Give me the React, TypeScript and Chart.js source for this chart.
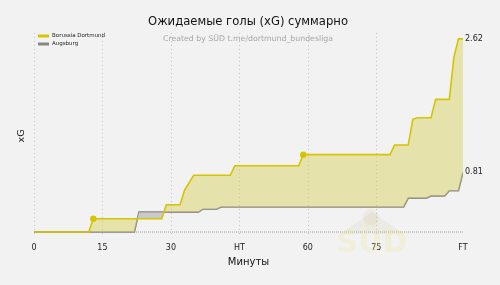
import { useEffect, useRef } from 'react';
import { Chart, registerables } from 'chart.js';
Chart.register(...registerables);

const dortmundMinutes = [0, 12, 13, 28, 29, 32, 33, 35, 43, 44, 58, 59, 78, 79, 82, 83, 84, 87, 88, 91, 92, 93, 94];
const dortmundXG = [0, 0, 0.18, 0.18, 0.37, 0.37, 0.57, 0.77, 0.77, 0.9, 0.9, 1.05, 1.05, 1.18, 1.18, 1.53, 1.55, 1.55, 1.8, 1.8, 2.37, 2.62, 2.62];
const augsburgMinutes = [0, 22, 23, 36, 37, 40, 41, 81, 82, 86, 87, 90, 91, 93, 94];
const augsburgXG = [0, 0, 0.27, 0.27, 0.31, 0.31, 0.34, 0.34, 0.46, 0.46, 0.49, 0.49, 0.56, 0.56, 0.81];
const dortmundGoalMinutes = [13, 59];
const tickMinutes = [0, 15, 30, 45, 60, 75, 94];
const tickLabels = ['0', '15', '30', 'HT', '60', '75', 'FT'];
const teamNames = ['Borussia Dortmund', 'Augsburg'];
const titleText = 'Ожидаемые голы (xG) суммарно';
const subtitleText = 'Created by SÜD t.me/dortmund_bundesliga';
const xTitle = 'Минуты';
const yTitle = 'xG';

const FONT = "'DejaVu Sans', sans-serif";
const YELLOW = '#d4c500';
const YELLOW_FILL = 'rgba(218,210,100,0.5)';
const GREY = '#858585';
const GREY_FILL = '#c9c9c9';
const BG = '#f2f2f2';

const decor = {
  id: 'decor',
  beforeDraw(chart: any) {
    const { ctx, width, height } = chart;
    ctx.save();
    ctx.fillStyle = BG;
    ctx.fillRect(0, 0, width, height);
    ctx.restore();
  },
  beforeDatasetsDraw(chart: any) {
    const { ctx } = chart;
    const xs = chart.scales.x;
    const ys = chart.scales.y;
    ctx.save();
    // vertical dotted grid
    ctx.strokeStyle = '#c4c4c4';
    ctx.lineWidth = 1;
    ctx.setLineDash([1, 3]);
    tickMinutes.slice(0, -1).forEach((m) => {
      const x = Math.round(xs.getPixelForValue(m)) + 0.5;
      ctx.beginPath();
      ctx.moveTo(x, 33);
      ctx.lineTo(x, 237);
      ctx.stroke();
    });
    // baseline
    const y0 = ys.getPixelForValue(0);
    ctx.strokeStyle = '#c8c8c8';
    ctx.lineWidth = 2;
    ctx.setLineDash([1, 1]);
    ctx.beginPath();
    ctx.moveTo(xs.getPixelForValue(0), y0);
    ctx.lineTo(xs.getPixelForValue(94), y0);
    ctx.stroke();
    ctx.setLineDash([]);
    // watermark
    ctx.fillStyle = 'rgba(200,195,150,0.16)';
    ctx.beginPath();
    ctx.moveTo(340, 234);
    ctx.lineTo(372, 212);
    ctx.lineTo(404, 234);
    ctx.closePath();
    ctx.fill();
    ctx.beginPath();
    ctx.arc(371, 217, 8, 0, Math.PI * 2);
    ctx.fill();
    ctx.fillStyle = 'rgba(240,232,160,0.3)';
    ctx.font = `bold 30px ${FONT}`;
    ctx.textAlign = 'center';
    ctx.textBaseline = 'middle';
    ctx.fillText('SÜD', 372, 244);
    ctx.restore();
  },
  afterDraw(chart: any) {
    const { ctx } = chart;
    const xs = chart.scales.x;
    const ys = chart.scales.y;
    ctx.save();
    ctx.textBaseline = 'middle';
    ctx.textAlign = 'center';
    ctx.fillStyle = '#111';
    ctx.font = `11.6px ${FONT}`;
    ctx.fillText(titleText, 248, 22);
    ctx.fillStyle = '#a6a6a6';
    ctx.font = `7.8px ${FONT}`;
    ctx.fillText(subtitleText, 248, 39);
    // y title
    ctx.save();
    ctx.translate(22, 136);
    ctx.rotate(-Math.PI / 2);
    ctx.fillStyle = '#111';
    ctx.font = `9.5px ${FONT}`;
    ctx.fillText(yTitle, 0, 0);
    ctx.restore();
    // legend
    const colors = [YELLOW, GREY];
    teamNames.forEach((n, i) => {
      const y = 36 + i * 8;
      ctx.fillStyle = colors[i];
      ctx.fillRect(38, y - 1.5, 11, 3);
      ctx.fillStyle = '#222';
      ctx.textAlign = 'left';
      ctx.font = `5.5px ${FONT}`;
      ctx.fillText(n, 52, y);
    });
    // end labels
    ctx.font = `8px ${FONT}`;
    ctx.fillStyle = '#222';
    ctx.textAlign = 'left';
    const lastD = dortmundXG[dortmundXG.length - 1];
    const lastA = augsburgXG[augsburgXG.length - 1];
    const xe = xs.getPixelForValue(94) + 2;
    ctx.fillText(lastD.toFixed(2), xe, ys.getPixelForValue(lastD));
    ctx.fillText(lastA.toFixed(2), xe, ys.getPixelForValue(lastA));
    ctx.restore();
  },
};

export default function App() {
  const ref = useRef<HTMLCanvasElement>(null);
  useEffect(() => {
    document.body.style.margin = '0';
    const canvas = ref.current!;
    const chart = new Chart(canvas, {
      type: 'line',
      data: {
        datasets: [
          {
            label: teamNames[0],
            data: dortmundMinutes.map((m, i) => ({ x: m, y: dortmundXG[i] })),
            borderColor: YELLOW,
            backgroundColor: YELLOW,
            borderWidth: 1.6,
            tension: 0,
            pointRadius: (c: any) => (dortmundGoalMinutes.includes(c.raw?.x) && c.dataIndex > 0 && dortmundMinutes[c.dataIndex - 1] !== c.raw.x ? 3.2 : 0),
            pointBackgroundColor: YELLOW,
            pointBorderWidth: 0,
            fill: { target: 1, above: YELLOW_FILL, below: GREY_FILL },
            order: 1,
          },
          {
            label: teamNames[1],
            data: augsburgMinutes.map((m, i) => ({ x: m, y: augsburgXG[i] })),
            borderColor: GREY,
            backgroundColor: GREY,
            borderWidth: 1.6,
            tension: 0,
            pointRadius: 0,
            fill: false,
            order: 2,
          },
        ],
      },
      options: {
        responsive: false,
        animation: false,
        events: [],
        layout: { padding: { left: 34, right: 37, top: 29.3, bottom: 16.7 } },
        plugins: { legend: { display: false }, tooltip: { enabled: false }, title: { display: false } },
        scales: {
          x: {
            type: 'linear',
            min: 0,
            max: 94,
            afterBuildTicks: (axis: any) => {
              axis.ticks = tickMinutes.map((v) => ({ value: v }));
            },
            ticks: {
              autoSkip: false,
              maxRotation: 0,
              padding: 1,
              color: '#222',
              font: { family: FONT, size: 8 },
              callback: (v: any) => {
                const i = tickMinutes.indexOf(Number(v));
                return i >= 0 ? tickLabels[i] : '';
              },
            },
            grid: { display: false, drawTicks: false },
            border: { display: false },
            title: { display: true, text: xTitle, color: '#111', font: { family: FONT, size: 10 }, padding: { top: 3, bottom: 0 } },
          },
          y: {
            display: false,
            min: -0.131,
            max: 2.75,
          },
        },
      },
      plugins: [decor],
    } as any);
    return () => chart.destroy();
  }, []);
  return <canvas ref={ref} width={500} height={285} style={{ display: 'block' }} />;
}
